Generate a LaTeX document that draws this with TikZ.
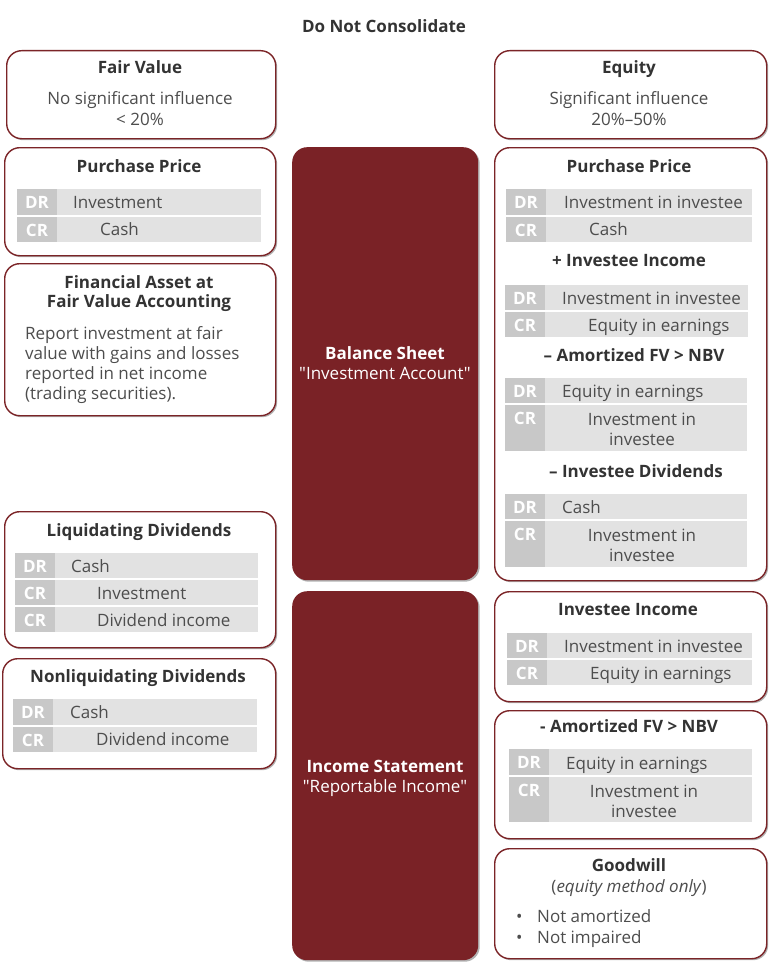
\documentclass[tikz,border=0pt]{standalone}
\usepackage{fontspec}
\setmainfont{Open Sans}[Ligatures=TeXOff]
\usetikzlibrary{shadows,calc}
\definecolor{boxred}{HTML}{7B2427}
\definecolor{barred}{HTML}{7A2226}
\definecolor{labgray}{HTML}{C8C8C8}
\definecolor{valgray}{HTML}{E2E2E2}
\definecolor{titlec}{HTML}{333333}
\definecolor{bodyc}{HTML}{4D4D4D}
\tikzset{
 box/.style={draw=boxred, line width=1.4pt, fill=white, rounded corners=15pt, anchor=north west, inner sep=0pt,
   drop shadow={shadow xshift=1.5pt, shadow yshift=-1.5pt, opacity=0.3, fill=black}},
 bar/.style={fill=barred, rounded corners=15pt, anchor=north west, inner sep=0pt,
   drop shadow={shadow xshift=1.5pt, shadow yshift=-1.5pt, opacity=0.3, fill=black}},
 ttl/.style={font=\fontsize{17}{20}\selectfont\bfseries, text=titlec, anchor=base, inner sep=0pt},
 ttlw/.style={font=\fontsize{17}{20}\selectfont\bfseries, text=white, anchor=base, inner sep=0pt},
 txt/.style={font=\fontsize{17}{20}\selectfont, text=bodyc, anchor=base, inner sep=0pt},
 txtww/.style={font=\fontsize{17}{20}\selectfont, text=white, anchor=base, inner sep=0pt},
 txtl/.style={txt, anchor=base west},
 lab/.style={font=\fontsize{17}{20}\selectfont\bfseries, text=white, anchor=base, inner sep=0pt},
}
\newcommand\jrow[6]{%
 \fill[labgray] (#2,#3) rectangle ({#2+40},#5);
 \fill[valgray] ({#2+40},#3) rectangle (#4,#5);
 \node[lab] (#1) at ({#2+20},{#3+19}) {#6};}
\begin{document}
\begin{tikzpicture}[x=1pt,y=-1pt]
\useasboundingbox (0,0) rectangle (775,963);
\node[ttl] (head) at (384,33) {Do Not Consolidate};

% ---------- left column
\node[box, minimum width=269pt, minimum height=88pt] (fvbox) at (6,50) {};
\node[ttl] (fvt) at (140,74) {Fair Value};
\node[txt] (fv1) at (140,105) {No significant influence};
\node[txt] (fv2) at (140,125) {< 20\%};

\node[box, minimum width=271pt, minimum height=108pt] (ppl) at (4,147) {};
\node[ttl] (pplt) at (139,172) {Purchase Price};
\jrow{ppldr}{17}{189}{261}{215}{DR}
\jrow{pplcr}{17}{217}{261}{242}{CR}
\node[txtl] (ppl1) at (73,208) {Investment};
\node[txtl] (ppl2) at (100,235) {Cash};

\node[box, minimum width=271pt, minimum height=152pt] (fa) at (4,263) {};
\node[ttl] (fat1) at (139,288) {Financial Asset at};
\node[ttl] (fat2) at (139,307) {Fair Value Accounting};
\node[txtl] (fa1) at (25,339) {Report investment at fair};
\node[txtl] (fa2) at (25,359) {value with gains and losses};
\node[txtl] (fa3) at (25,379) {reported in net income};
\node[txtl] (fa4) at (25,399) {(trading securities).};

\node[box, minimum width=271pt, minimum height=136pt] (liq) at (4,511) {};
\node[ttl] (liqt) at (139,536) {Liquidating Dividends};
\jrow{liqdr}{15}{553}{258}{578}{DR}
\jrow{liqcr1}{15}{580}{258}{605}{CR}
\jrow{liqcr2}{15}{607}{258}{632}{CR}
\node[txtl] (liq1) at (71,572) {Cash};
\node[txtl] (liq2) at (97,599) {Investment};
\node[txtl] (liq3) at (97,626) {Dividend income};

\node[box, minimum width=273pt, minimum height=110pt] (nliq) at (2,658) {};
\node[ttl] (nliqt) at (138,682) {Nonliquidating Dividends};
\jrow{nliqdr}{13}{699}{257}{725}{DR}
\jrow{nliqcr}{13}{727}{257}{752}{CR}
\node[txtl] (nliq1) at (70,718) {Cash};
\node[txtl] (nliq2) at (96,745) {Dividend income};

% ---------- centre bars
\node[bar, minimum width=186pt, minimum height=433pt] (bs) at (292,147) {};
\node[ttlw] (bst) at (385,359) {Balance Sheet};
\node[txtww] (bss) at (385,379) {"Investment Account"};
\node[bar, minimum width=186pt, minimum height=369pt] (is) at (292,591) {};
\node[ttlw] (ist) at (385,772) {Income Statement};
\node[txtww] (iss) at (385,792) {"Reportable Income"};

% ---------- right column
\node[box, minimum width=272pt, minimum height=88pt] (eqbox) at (494,50) {};
\node[ttl] (eqt) at (629,74) {Equity};
\node[txt] (eq1) at (629,105) {Significant influence};
\node[txt] (eq2) at (629,125) {20\%–50\%};

\node[box, minimum width=272pt, minimum height=433pt] (ppr) at (494,147) {};
\node[ttl] (pprt) at (629,172) {Purchase Price};
\jrow{r1dr}{506}{189}{752}{215}{DR}
\jrow{r1cr}{506}{217}{752}{242}{CR}
\node[txtl] (r1a) at (564,208) {Investment in investee};
\node[txtl] (r1b) at (589,235) {Cash};
\node[ttl] (r2t) at (629,266) {+ Investee Income};
\jrow{r2dr}{505}{285}{748}{310}{DR}
\jrow{r2cr}{505}{312}{748}{337}{CR}
\node[txtl] (r2a) at (562,304) {Investment in investee};
\node[txtl] (r2b) at (588,331) {Equity in earnings};
\node[ttl] (r3t) at (634,361) {– Amortized FV > NBV};
\jrow{r3dr}{505}{378}{747}{403}{DR}
\jrow{r3cr}{505}{405}{747}{451}{CR}
\node[txtl] (r3a) at (562,397) {Equity in earnings};
\node[txt] (r3b) at (642,425) {Investment in};
\node[txt] (r3c) at (642,445) {investee};
\node[ttl] (r4t) at (636,477) {– Investee Dividends};
\jrow{r4dr}{505}{494}{747}{519}{DR}
\jrow{r4cr}{505}{521}{747}{567}{CR}
\node[txtl] (r4a) at (562,513) {Cash};
\node[txt] (r4b) at (642,541) {Investment in};
\node[txt] (r4c) at (642,561) {investee};

\node[box, minimum width=272pt, minimum height=110pt] (ii) at (494,591) {};
\node[ttl] (iit) at (628,615) {Investee Income};
\jrow{iidr}{507}{633}{752}{658}{DR}
\jrow{iicr}{507}{660}{752}{685}{CR}
\node[txtl] (ii1) at (564,652) {Investment in investee};
\node[txtl] (ii2) at (590,679) {Equity in earnings};

\node[box, minimum width=272pt, minimum height=128pt] (am) at (494,710) {};
\node[ttl] (amt) at (629,732) {- Amortized FV > NBV};
\jrow{amdr}{509}{749}{752}{775}{DR}
\jrow{amcr}{509}{777}{752}{822}{CR}
\node[txtl] (am1) at (566,769) {Equity in earnings};
\node[txt] (am2) at (644,797) {Investment in};
\node[txt] (am3) at (644,817) {investee};

\node[box, minimum width=272pt, minimum height=110pt] (gw) at (494,848) {};
\node[ttl] (gwt) at (629,871) {Goodwill};
\node[txt] (gws) at (629,892) {(\textit{equity method only})};
\node[txtl] (gwb1) at (516,922) {•};
\node[txtl] (gw1) at (537,922) {Not amortized};
\node[txtl] (gwb2) at (516,943) {•};
\node[txtl] (gw2) at (537,943) {Not impaired};
\end{tikzpicture}
\end{document}
